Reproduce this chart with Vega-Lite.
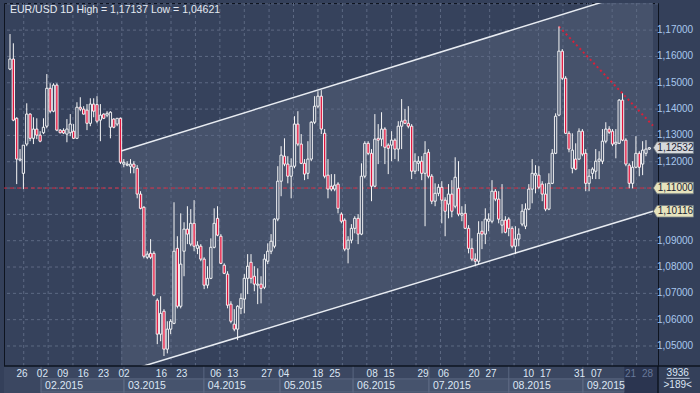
{
"$schema": "https://vega.github.io/schema/vega-lite/v6.json",
"background": "#34405a",
"padding": {"left": 3, "top": 2, "right": 0, "bottom": 0},
"spacing": 0,
"bounds": "flush",
"config": {"font": "Liberation Sans", "view": {"stroke": "#0e1420", "strokeWidth": 1}},
"resolve": {"scale": {"x": "independent", "y": "independent"}},
"datasets": {
"c": [
{"i":0,"o":1.1552,"h":1.1685,"l":1.1548,"c":1.1590},
{"i":1,"o":1.1590,"h":1.1650,"l":1.1354,"c":1.1358},
{"i":2,"o":1.1365,"h":1.1369,"l":1.1115,"c":1.1210},
{"i":3,"o":1.1206,"h":1.1248,"l":1.1202,"c":1.1210},
{"i":4,"o":1.1156,"h":1.1263,"l":1.1096,"c":1.1263},
{"i":5,"o":1.1267,"h":1.1422,"l":1.1259,"c":1.1381},
{"i":6,"o":1.1381,"h":1.1384,"l":1.1278,"c":1.1289},
{"i":7,"o":1.1289,"h":1.1369,"l":1.1267,"c":1.1324},
{"i":8,"o":1.1324,"h":1.1365,"l":1.1286,"c":1.1301},
{"i":9,"o":1.1301,"h":1.1316,"l":1.1274,"c":1.1278},
{"i":10,"o":1.1310,"h":1.1365,"l":1.1305,"c":1.1331},
{"i":11,"o":1.1335,"h":1.1533,"l":1.1327,"c":1.1479},
{"i":12,"o":1.1479,"h":1.1498,"l":1.1384,"c":1.1392},
{"i":13,"o":1.1392,"h":1.1498,"l":1.1388,"c":1.1491},
{"i":14,"o":1.1491,"h":1.1498,"l":1.1316,"c":1.1320},
{"i":15,"o":1.1320,"h":1.1324,"l":1.1308,"c":1.1310},
{"i":16,"o":1.1319,"h":1.1327,"l":1.1305,"c":1.1309},
{"i":17,"o":1.1305,"h":1.1362,"l":1.1274,"c":1.1324},
{"i":18,"o":1.1310,"h":1.1381,"l":1.1297,"c":1.1343},
{"i":19,"o":1.1316,"h":1.1343,"l":1.1286,"c":1.1289},
{"i":20,"o":1.1289,"h":1.1426,"l":1.1286,"c":1.1407},
{"i":21,"o":1.1407,"h":1.1445,"l":1.1392,"c":1.1400},
{"i":22,"o":1.1400,"h":1.1411,"l":1.1379,"c":1.1381},
{"i":23,"o":1.1396,"h":1.1419,"l":1.1320,"c":1.1346},
{"i":24,"o":1.1346,"h":1.1441,"l":1.1335,"c":1.1419},
{"i":25,"o":1.1419,"h":1.1441,"l":1.1369,"c":1.1392},
{"i":26,"o":1.1417,"h":1.1449,"l":1.1346,"c":1.1354},
{"i":27,"o":1.1358,"h":1.1419,"l":1.1278,"c":1.1377},
{"i":28,"o":1.1381,"h":1.1384,"l":1.1362,"c":1.1365},
{"i":29,"o":1.1377,"h":1.1392,"l":1.1369,"c":1.1384},
{"i":30,"o":1.1331,"h":1.1392,"l":1.1289,"c":1.1388},
{"i":31,"o":1.1362,"h":1.1365,"l":1.1327,"c":1.1331},
{"i":32,"o":1.1343,"h":1.1365,"l":1.1335,"c":1.1365},
{"i":33,"o":1.1365,"h":1.1368,"l":1.1191,"c":1.1198},
{"i":34,"o":1.1191,"h":1.1210,"l":1.1179,"c":1.1198},
{"i":35,"o":1.1187,"h":1.1202,"l":1.1183,"c":1.1191},
{"i":36,"o":1.1183,"h":1.1210,"l":1.1156,"c":1.1191},
{"i":37,"o":1.1191,"h":1.1202,"l":1.1156,"c":1.1179},
{"i":38,"o":1.1175,"h":1.1187,"l":1.1061,"c":1.1077},
{"i":39,"o":1.1077,"h":1.1088,"l":1.1019,"c":1.1023},
{"i":40,"o":1.1027,"h":1.1031,"l":1.0833,"c":1.0841},
{"i":41,"o":1.0837,"h":1.0860,"l":1.0830,"c":1.0849},
{"i":42,"o":1.0852,"h":1.0906,"l":1.0830,"c":1.0837},
{"i":43,"o":1.0852,"h":1.0860,"l":1.0689,"c":1.0693},
{"i":44,"o":1.0674,"h":1.0681,"l":1.0507,"c":1.0545},
{"i":45,"o":1.0545,"h":1.0689,"l":1.0518,"c":1.0624},
{"i":46,"o":1.0632,"h":1.0640,"l":1.0462,"c":1.0488},
{"i":47,"o":1.0488,"h":1.0594,"l":1.0472,"c":1.0564},
{"i":48,"o":1.0564,"h":1.0602,"l":1.0545,"c":1.0594},
{"i":49,"o":1.0586,"h":1.1046,"l":1.0583,"c":1.0860},
{"i":50,"o":1.0871,"h":1.0917,"l":1.0643,"c":1.0651},
{"i":51,"o":1.0651,"h":1.1004,"l":1.0643,"c":1.0811},
{"i":52,"o":1.0860,"h":1.0970,"l":1.0765,"c":1.0944},
{"i":53,"o":1.0944,"h":1.1031,"l":1.0887,"c":1.0925},
{"i":54,"o":1.0887,"h":1.1020,"l":1.0879,"c":1.0966},
{"i":55,"o":1.0966,"h":1.1054,"l":1.0860,"c":1.0879},
{"i":56,"o":1.0871,"h":1.0898,"l":1.0849,"c":1.0883},
{"i":57,"o":1.0879,"h":1.0887,"l":1.0822,"c":1.0830},
{"i":58,"o":1.0830,"h":1.0837,"l":1.0716,"c":1.0731},
{"i":59,"o":1.0731,"h":1.0803,"l":1.0719,"c":1.0757},
{"i":60,"o":1.0757,"h":1.0909,"l":1.0754,"c":1.0875},
{"i":61,"o":1.0875,"h":1.1023,"l":1.0871,"c":1.0966},
{"i":62,"o":1.0985,"h":1.1031,"l":1.0917,"c":1.0921},
{"i":63,"o":1.0917,"h":1.0925,"l":1.0811,"c":1.0814},
{"i":64,"o":1.0807,"h":1.0814,"l":1.0773,"c":1.0776},
{"i":65,"o":1.0773,"h":1.0784,"l":1.0643,"c":1.0655},
{"i":66,"o":1.0659,"h":1.0670,"l":1.0586,"c":1.0594},
{"i":67,"o":1.0583,"h":1.0640,"l":1.0556,"c":1.0564},
{"i":68,"o":1.0564,"h":1.0655,"l":1.0522,"c":1.0651},
{"i":69,"o":1.0643,"h":1.0700,"l":1.0621,"c":1.0681},
{"i":70,"o":1.0678,"h":1.0773,"l":1.0624,"c":1.0757},
{"i":71,"o":1.0757,"h":1.0849,"l":1.0697,"c":1.0803},
{"i":72,"o":1.0818,"h":1.0849,"l":1.0738,"c":1.0757},
{"i":73,"o":1.0765,"h":1.0803,"l":1.0708,"c":1.0735},
{"i":74,"o":1.0731,"h":1.0795,"l":1.0659,"c":1.0735},
{"i":75,"o":1.0735,"h":1.0765,"l":1.0662,"c":1.0719},
{"i":76,"o":1.0723,"h":1.0849,"l":1.0716,"c":1.0830},
{"i":77,"o":1.0822,"h":1.0890,"l":1.0811,"c":1.0860},
{"i":78,"o":1.0860,"h":1.0925,"l":1.0849,"c":1.0898},
{"i":79,"o":1.0879,"h":1.0985,"l":1.0871,"c":1.0982},
{"i":80,"o":1.0982,"h":1.1183,"l":1.0974,"c":1.1126},
{"i":81,"o":1.1126,"h":1.1259,"l":1.1069,"c":1.1225},
{"i":82,"o":1.1221,"h":1.1289,"l":1.1183,"c":1.1191},
{"i":83,"o":1.1191,"h":1.1221,"l":1.1118,"c":1.1145},
{"i":84,"o":1.1145,"h":1.1213,"l":1.1061,"c":1.1183},
{"i":85,"o":1.1183,"h":1.1373,"l":1.1175,"c":1.1343},
{"i":86,"o":1.1343,"h":1.1392,"l":1.1259,"c":1.1267},
{"i":87,"o":1.1267,"h":1.1305,"l":1.1191,"c":1.1194},
{"i":88,"o":1.1194,"h":1.1210,"l":1.1130,"c":1.1153},
{"i":89,"o":1.1156,"h":1.1278,"l":1.1134,"c":1.1210},
{"i":90,"o":1.1210,"h":1.1354,"l":1.1202,"c":1.1350},
{"i":91,"o":1.1350,"h":1.1449,"l":1.1343,"c":1.1411},
{"i":92,"o":1.1411,"h":1.1468,"l":1.1403,"c":1.1449},
{"i":93,"o":1.1449,"h":1.1472,"l":1.1305,"c":1.1324},
{"i":94,"o":1.1308,"h":1.1324,"l":1.1137,"c":1.1145},
{"i":95,"o":1.1149,"h":1.1210,"l":1.1061,"c":1.1096},
{"i":96,"o":1.1107,"h":1.1153,"l":1.1088,"c":1.1096},
{"i":97,"o":1.1096,"h":1.1153,"l":1.1088,"c":1.1111},
{"i":98,"o":1.1115,"h":1.1122,"l":1.1004,"c":1.1023},
{"i":99,"o":1.1001,"h":1.1008,"l":1.0966,"c":1.0974},
{"i":100,"o":1.0978,"h":1.0985,"l":1.0860,"c":1.0868},
{"i":101,"o":1.0868,"h":1.0917,"l":1.0814,"c":1.0902},
{"i":102,"o":1.0902,"h":1.0963,"l":1.0890,"c":1.0947},
{"i":103,"o":1.0947,"h":1.0993,"l":1.0928,"c":1.0985},
{"i":104,"o":1.0985,"h":1.1001,"l":1.0887,"c":1.0925},
{"i":105,"o":1.0925,"h":1.1194,"l":1.0921,"c":1.1145},
{"i":106,"o":1.1145,"h":1.1278,"l":1.1137,"c":1.1270},
{"i":107,"o":1.1270,"h":1.1278,"l":1.1225,"c":1.1232},
{"i":108,"o":1.1232,"h":1.1248,"l":1.1050,"c":1.1107},
{"i":109,"o":1.1107,"h":1.1381,"l":1.1103,"c":1.1286},
{"i":110,"o":1.1289,"h":1.1343,"l":1.1191,"c":1.1282},
{"i":111,"o":1.1286,"h":1.1388,"l":1.1259,"c":1.1324},
{"i":112,"o":1.1324,"h":1.1331,"l":1.1191,"c":1.1255},
{"i":113,"o":1.1263,"h":1.1270,"l":1.1153,"c":1.1251},
{"i":114,"o":1.1263,"h":1.1316,"l":1.1202,"c":1.1282},
{"i":115,"o":1.1282,"h":1.1289,"l":1.1210,"c":1.1248},
{"i":116,"o":1.1248,"h":1.1354,"l":1.1202,"c":1.1335},
{"i":117,"o":1.1335,"h":1.1438,"l":1.1248,"c":1.1354},
{"i":118,"o":1.1358,"h":1.1400,"l":1.1343,"c":1.1346},
{"i":119,"o":1.1346,"h":1.1411,"l":1.1327,"c":1.1335},
{"i":120,"o":1.1335,"h":1.1343,"l":1.1134,"c":1.1164},
{"i":121,"o":1.1164,"h":1.1232,"l":1.1153,"c":1.1202},
{"i":122,"o":1.1194,"h":1.1221,"l":1.1164,"c":1.1202},
{"i":123,"o":1.1202,"h":1.1221,"l":1.1130,"c":1.1156},
{"i":124,"o":1.1156,"h":1.1278,"l":1.0955,"c":1.1232},
{"i":125,"o":1.1236,"h":1.1248,"l":1.1137,"c":1.1145},
{"i":126,"o":1.1145,"h":1.1153,"l":1.1039,"c":1.1050},
{"i":127,"o":1.1050,"h":1.1118,"l":1.1031,"c":1.1080},
{"i":128,"o":1.1080,"h":1.1115,"l":1.1069,"c":1.1103},
{"i":129,"o":1.1103,"h":1.1126,"l":1.0966,"c":1.1054},
{"i":130,"o":1.1054,"h":1.1065,"l":1.0917,"c":1.1012},
{"i":131,"o":1.1039,"h":1.1115,"l":1.0985,"c":1.1077},
{"i":132,"o":1.1077,"h":1.1130,"l":1.0989,"c":1.1012},
{"i":133,"o":1.1031,"h":1.1217,"l":1.1023,"c":1.1141},
{"i":134,"o":1.1099,"h":1.1202,"l":1.0993,"c":1.1001},
{"i":135,"o":1.0997,"h":1.1031,"l":1.0974,"c":1.1004},
{"i":136,"o":1.1004,"h":1.1039,"l":1.0944,"c":1.0947},
{"i":137,"o":1.0947,"h":1.0959,"l":1.0852,"c":1.0871},
{"i":138,"o":1.0871,"h":1.0909,"l":1.0822,"c":1.0830},
{"i":139,"o":1.0830,"h":1.0852,"l":1.0803,"c":1.0822},
{"i":140,"o":1.0822,"h":1.0974,"l":1.0811,"c":1.0928},
{"i":141,"o":1.0936,"h":1.0974,"l":1.0868,"c":1.0925},
{"i":142,"o":1.0925,"h":1.1023,"l":1.0887,"c":1.0982},
{"i":143,"o":1.0974,"h":1.1004,"l":1.0936,"c":1.0982},
{"i":144,"o":1.0974,"h":1.1130,"l":1.0966,"c":1.1088},
{"i":145,"o":1.1088,"h":1.1096,"l":1.1050,"c":1.1058},
{"i":146,"o":1.1058,"h":1.1088,"l":1.0966,"c":1.0982},
{"i":147,"o":1.0959,"h":1.1115,"l":1.0928,"c":1.0978},
{"i":148,"o":1.0978,"h":1.0993,"l":1.0928,"c":1.0932},
{"i":149,"o":1.0982,"h":1.0989,"l":1.0917,"c":1.0947},
{"i":150,"o":1.0947,"h":1.0955,"l":1.0871,"c":1.0879},
{"i":151,"o":1.0879,"h":1.0955,"l":1.0849,"c":1.0906},
{"i":152,"o":1.0906,"h":1.0947,"l":1.0879,"c":1.0925},
{"i":153,"o":1.0963,"h":1.1039,"l":1.0955,"c":1.1012},
{"i":154,"o":1.0955,"h":1.1042,"l":1.0944,"c":1.1020},
{"i":155,"o":1.1020,"h":1.1115,"l":1.1016,"c":1.1096},
{"i":156,"o":1.1096,"h":1.1210,"l":1.1042,"c":1.1156},
{"i":157,"o":1.1149,"h":1.1187,"l":1.1080,"c":1.1156},
{"i":158,"o":1.1149,"h":1.1183,"l":1.1096,"c":1.1103},
{"i":159,"o":1.1115,"h":1.1126,"l":1.1050,"c":1.1077},
{"i":160,"o":1.1077,"h":1.1118,"l":1.1012,"c":1.1020},
{"i":161,"o":1.1020,"h":1.1156,"l":1.1016,"c":1.1118},
{"i":162,"o":1.1118,"h":1.1248,"l":1.1115,"c":1.1232},
{"i":163,"o":1.1232,"h":1.1384,"l":1.1229,"c":1.1373},
{"i":164,"o":1.1377,"h":1.17137,"l":1.1373,"c":1.1620},
{"i":165,"o":1.1620,"h":1.1628,"l":1.1510,"c":1.1517},
{"i":166,"o":1.1517,"h":1.1525,"l":1.1305,"c":1.1308},
{"i":167,"o":1.1308,"h":1.1316,"l":1.1236,"c":1.1248},
{"i":168,"o":1.1175,"h":1.1308,"l":1.1156,"c":1.1244},
{"i":169,"o":1.1210,"h":1.1270,"l":1.1168,"c":1.1172},
{"i":170,"o":1.1210,"h":1.1327,"l":1.1206,"c":1.1316},
{"i":171,"o":1.1316,"h":1.1324,"l":1.1221,"c":1.1229},
{"i":172,"o":1.1232,"h":1.1248,"l":1.1088,"c":1.1118},
{"i":173,"o":1.1118,"h":1.1172,"l":1.1088,"c":1.1145},
{"i":174,"o":1.1156,"h":1.1179,"l":1.1134,"c":1.1172},
{"i":175,"o":1.1164,"h":1.1248,"l":1.1134,"c":1.1202},
{"i":176,"o":1.1202,"h":1.1240,"l":1.1134,"c":1.1210},
{"i":177,"o":1.1202,"h":1.1324,"l":1.1191,"c":1.1278},
{"i":178,"o":1.1278,"h":1.1350,"l":1.1270,"c":1.1324},
{"i":179,"o":1.1324,"h":1.1335,"l":1.1305,"c":1.1312},
{"i":180,"o":1.1316,"h":1.1324,"l":1.1259,"c":1.1267},
{"i":181,"o":1.1267,"h":1.1324,"l":1.1213,"c":1.1274},
{"i":182,"o":1.1270,"h":1.1438,"l":1.1267,"c":1.1434},
{"i":183,"o":1.1434,"h":1.1460,"l":1.1278,"c":1.1282},
{"i":184,"o":1.1282,"h":1.1289,"l":1.1183,"c":1.1191},
{"i":185,"o":1.1187,"h":1.1194,"l":1.1099,"c":1.1118},
{"i":186,"o":1.1118,"h":1.1202,"l":1.1099,"c":1.1179},
{"i":187,"o":1.1179,"h":1.1297,"l":1.1175,"c":1.1232},
{"i":188,"o":1.1232,"h":1.1240,"l":1.1145,"c":1.1179},
{"i":189,"o":1.1191,"h":1.1278,"l":1.1149,"c":1.1244},
{"i":190,"o":1.1232,"h":1.1282,"l":1.1221,"c":1.1248},
{"i":191,"o":1.1248,"h":1.1255,"l":1.1245,"c":1.12532}
],
"channel": [{"i":33.2,"u":1.1241,"lo":1.0398},{"i":192.1,"u":1.1866,"lo":1.10116}],
"lines": [{"i0":33.2,"p0":1.1241,"i1":192.1,"p1":1.1866},{"i0":33.2,"p0":1.0398,"i1":192.1,"p1":1.10116}],
"trend": [{"i":164,"p":1.17137},{"i":192.1,"p":1.1337}],
"ref": [{"p":1.11}],
"hg": [{"p":1.05},{"p":1.06},{"p":1.07},{"p":1.08},{"p":1.09},{"p":1.10},{"p":1.11},{"p":1.12},{"p":1.13},{"p":1.14},{"p":1.15},{"p":1.16},{"p":1.17},{"p":1.18}],
"ylab": [{"p":1.05,"t":"1,05000"},{"p":1.06,"t":"1,06000"},{"p":1.07,"t":"1,07000"},{"p":1.08,"t":"1,08000"},{"p":1.09,"t":"1,09000"},{"p":1.12,"t":"1,12000"},{"p":1.13,"t":"1,13000"},{"p":1.14,"t":"1,14000"},{"p":1.15,"t":"1,15000"},{"p":1.16,"t":"1,16000"},{"p":1.17,"t":"1,17000"}],
"vg": [{"i":4.1},{"i":11.4},{"i":18.8},{"i":26.1},{"i":33.4},{"i":40.7},{"i":48.1},{"i":55.4},{"i":62.7},{"i":70.0},{"i":77.4},{"i":84.7},{"i":92.0},{"i":99.3},{"i":106.6},{"i":114.0},{"i":121.3},{"i":128.6},{"i":135.9},{"i":143.3},{"i":150.6},{"i":157.9},{"i":165.2},{"i":172.6},{"i":179.9},{"i":187.2}],
"tags": [{"p":1.12532,"t":"1,12532"},{"p":1.11,"t":"1,11000"},{"p":1.10116,"t":"1,10116"}],
"title": [{"t":"EUR/USD 1D High = 1,17137 Low = 1,04621"}],
"days": [{"i":5,"t":"26"},{"i":11,"t":"02"},{"i":17,"t":"09"},{"i":23,"t":"16"},{"i":29,"t":"23"},{"i":35,"t":"02"},{"i":46,"t":"16"},{"i":52,"t":"23"},{"i":62,"t":"06"},{"i":67,"t":"13"},{"i":77,"t":"27"},{"i":82,"t":"04"},{"i":92,"t":"18"},{"i":97,"t":"25"},{"i":108,"t":"08"},{"i":113,"t":"15"},{"i":123,"t":"29"},{"i":129,"t":"06"},{"i":138,"t":"20"},{"i":143,"t":"27"},{"i":154,"t":"10"},{"i":159,"t":"17"},{"i":169,"t":"31"},{"i":174,"t":"07"},{"i":184,"t":"21"},{"i":189,"t":"28"}],
"months": [{"s":10.6,"e":35,"t":"02.2015"},{"s":35,"e":58.5,"t":"03.2015"},{"s":58.5,"e":80.9,"t":"04.2015"},{"s":80.9,"e":102.4,"t":"05.2015"},{"s":102.4,"e":124.7,"t":"06.2015"},{"s":124.7,"e":148.2,"t":"07.2015"},{"s":148.2,"e":170,"t":"08.2015"},{"s":170,"e":182.2,"t":"09.2015"}],
"dim": [{"s":182.2,"e":192.1}],
"count": [{"t":"3936"}],
"shown": [{"t":">189<"}]
},
"vconcat": [
{
"width": 654, "height": 363,
"view": {"fill": "#36425c", "stroke": "#0e1420"},
"layer": [
{"data": {"name": "channel"},
 "mark": {"type": "area", "clip": true, "fill": "#46526b", "stroke": null},
 "encoding": {
  "x": {"field": "i", "type": "quantitative", "scale": {"domain": [-0.3, 192.1], "nice": false, "zero": false}, "axis": null},
  "y": {"field": "u", "type": "quantitative", "scale": {"domain": [1.0424, 1.1803], "nice": false, "zero": false}, "axis": null},
  "y2": {"field": "lo"}}},
{"data": {"name": "hg"},
 "mark": {"type": "rule", "stroke": "#5d6983", "strokeDash": [3, 3], "strokeWidth": 1},
 "encoding": {"y": {"field": "p", "type": "quantitative", "axis": null}}},
{"data": {"name": "vg"},
 "mark": {"type": "rule", "stroke": "#5d6983", "strokeDash": [3, 3], "strokeWidth": 1},
 "encoding": {"x": {"field": "i", "type": "quantitative", "axis": null}}},
{"data": {"name": "lines"},
 "mark": {"type": "rule", "clip": true, "stroke": "#e8ecf2", "strokeWidth": 1.5},
 "encoding": {"x": {"field": "i0", "type": "quantitative", "axis": null}, "x2": {"field": "i1"},
              "y": {"field": "p0", "type": "quantitative", "axis": null}, "y2": {"field": "p1"}}},
{"data": {"name": "ref"},
 "mark": {"type": "rule", "stroke": "#d42a40", "strokeDash": [4, 3], "strokeWidth": 1},
 "encoding": {"y": {"field": "p", "type": "quantitative", "axis": null}}},
{"data": {"name": "trend"},
 "mark": {"type": "line", "clip": true, "stroke": "#d8203a", "strokeDash": [2, 3], "strokeWidth": 2},
 "encoding": {"x": {"field": "i", "type": "quantitative", "axis": null}, "y": {"field": "p", "type": "quantitative", "axis": null}}},
{"data": {"name": "c"},
 "mark": {"type": "rule", "stroke": "#f6f6f6", "strokeWidth": 1},
 "encoding": {"x": {"field": "i", "type": "quantitative", "axis": null},
              "y": {"field": "l", "type": "quantitative", "axis": null}, "y2": {"field": "h"}}},
{"data": {"name": "c"},
 "mark": {"type": "bar", "width": 2.3, "stroke": "#ffffff", "strokeWidth": 0.9},
 "encoding": {"x": {"field": "i", "type": "quantitative", "axis": null},
              "y": {"field": "o", "type": "quantitative", "axis": null}, "y2": {"field": "c"},
              "fill": {"condition": [{"test": "datum.c < datum.o", "value": "#e0163e"}, {"test": "datum.i < 34", "value": "#36425c"}], "value": "#46526b"}}},
{"data": {"name": "ylab"},
 "mark": {"type": "text", "fontSize": 10, "fill": "#a9c8ee", "align": "left", "baseline": "middle", "dx": 4},
 "encoding": {"x": {"datum": 192.1, "type": "quantitative", "axis": null},
              "y": {"field": "p", "type": "quantitative", "axis": null}, "text": {"field": "t"}}},
{"data": {"name": "tags"},
 "mark": {"type": "point", "filled": true, "shape": "M -1 0 L -0.82 -0.29 L 1 -0.29 L 1 0.29 L -0.82 0.29 Z", "size": 1600, "stroke": "#707880", "strokeWidth": 0.8, "opacity": 1},
 "encoding": {"x": {"datum": 198.2, "type": "quantitative", "axis": null},
              "y": {"field": "p", "type": "quantitative", "axis": null},
              "fill": {"condition": {"test": "datum.p > 1.12", "value": "#d6d9dc"}, "value": "#e6e3bd"}}},
{"data": {"name": "tags"},
 "mark": {"type": "text", "fontSize": 10, "fill": "#1a2233", "dx": 2, "align": "center", "baseline": "middle"},
 "encoding": {"x": {"datum": 198.2, "type": "quantitative", "axis": null},
              "y": {"field": "p", "type": "quantitative", "axis": null}, "text": {"field": "t"}}},
{"data": {"name": "title"},
 "mark": {"type": "text", "fontSize": 10.5, "fill": "#e4eaf2", "align": "left", "baseline": "top", "dx": 1, "dy": 2},
 "encoding": {"x": {"datum": -0.3, "type": "quantitative", "axis": null}, "y": {"datum": 1.1803, "type": "quantitative", "axis": null}, "text": {"field": "t"}}}
]
},
{
"width": 654, "height": 28,
"view": {"fill": "#3b4761", "stroke": null},
"layer": [
{"data": {"name": "months"},
 "mark": {"type": "rect", "fill": "#46536d", "stroke": "#5a6780", "strokeWidth": 1},
 "encoding": {"x": {"field": "s", "type": "quantitative", "scale": {"domain": [-0.3, 192.1], "nice": false, "zero": false}, "axis": null},
              "x2": {"field": "e"},
              "y": {"datum": 0.07, "type": "quantitative", "scale": {"domain": [0, 1], "nice": false, "zero": false}, "axis": null},
              "y2": {"datum": 0.54}}},
{"data": {"name": "dim"},
 "mark": {"type": "rect", "fill": "#2b3550"},
 "encoding": {"x": {"field": "s", "type": "quantitative", "axis": null}, "x2": {"field": "e"},
              "y": {"datum": 0, "type": "quantitative", "axis": null}, "y2": {"datum": 1}}},
{"data": {"name": "months"},
 "mark": {"type": "rule", "stroke": "#5a6780", "strokeWidth": 1},
 "encoding": {"x": {"field": "s", "type": "quantitative", "axis": null}, "y": {"datum": 0, "type": "quantitative", "axis": null}, "y2": {"datum": 1}}},
{"data": {"name": "days"},
 "mark": {"type": "text", "fontSize": 10, "baseline": "middle", "align": "center"},
 "encoding": {"x": {"field": "i", "type": "quantitative", "axis": null}, "y": {"datum": 0.72, "type": "quantitative", "axis": null},
              "text": {"field": "t"},
              "fill": {"condition": {"test": "datum.i > 182", "value": "#67789a"}, "value": "#dce6f4"}}},
{"data": {"name": "months"},
 "mark": {"type": "text", "fontSize": 10.5, "baseline": "middle", "align": "left", "dx": 4, "fill": "#dce6f4"},
 "encoding": {"x": {"field": "s", "type": "quantitative", "axis": null}, "y": {"datum": 0.28, "type": "quantitative", "axis": null}, "text": {"field": "t"}}},
{"data": {"name": "count"},
 "mark": {"type": "text", "fontSize": 10, "baseline": "middle", "align": "center", "fill": "#dce6f4"},
 "encoding": {"x": {"datum": 197.9, "type": "quantitative", "axis": null}, "y": {"datum": 0.75, "type": "quantitative", "axis": null}, "text": {"field": "t"}}},
{"data": {"name": "shown"},
 "mark": {"type": "text", "fontSize": 10, "baseline": "middle", "align": "center", "fill": "#dce6f4"},
 "encoding": {"x": {"datum": 197.9, "type": "quantitative", "axis": null}, "y": {"datum": 0.31, "type": "quantitative", "axis": null}, "text": {"field": "t"}}},
{"data": {"name": "count"},
 "mark": {"type": "rule", "stroke": "#c0cce0", "strokeWidth": 1},
 "encoding": {"x": {"datum": 194.6, "type": "quantitative", "axis": null}, "x2": {"datum": 201.4}, "y": {"datum": 0.56, "type": "quantitative", "axis": null}}},
{"data": {"name": "count"},
 "mark": {"type": "rule", "stroke": "#0e1420", "strokeWidth": 1.5},
 "encoding": {"x": {"datum": 192.1, "type": "quantitative", "axis": null}, "y": {"datum": 0, "type": "quantitative", "axis": null}, "y2": {"datum": 1}}},
{"data": {"name": "count"},
 "mark": {"type": "rule", "stroke": "#0e1420", "strokeWidth": 1.5},
 "encoding": {"x": {"datum": -0.3, "type": "quantitative", "axis": null}, "x2": {"datum": 206}, "y": {"datum": 1, "type": "quantitative", "axis": null}}}
]
}
]
}
